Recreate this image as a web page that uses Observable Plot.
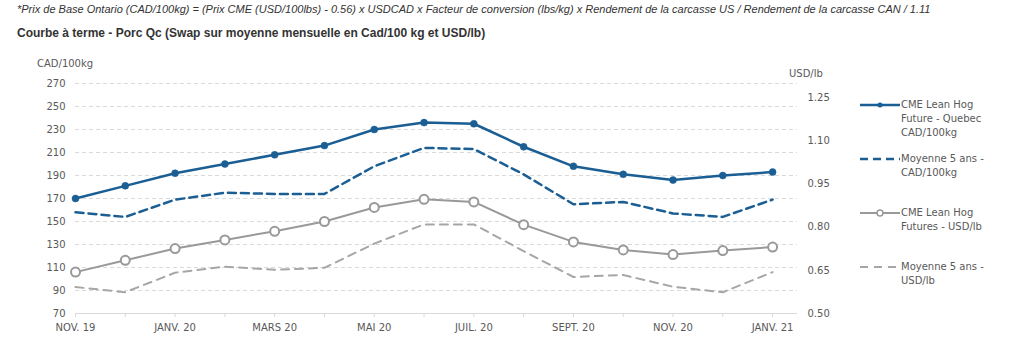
<!DOCTYPE html>
<html><head><meta charset="utf-8">
<script src="https://cdn.jsdelivr.net/npm/d3@7"></script>
<script src="https://cdn.jsdelivr.net/npm/@observablehq/plot@0.6"></script>
<style>
body{margin:0;background:#fff;}
#wrap{position:relative;width:1024px;height:344px;overflow:hidden;font-family:"DejaVu Sans",sans-serif;}
#wrap svg.plot{position:absolute;left:0;top:0;}
.t1{position:absolute;left:17px;top:3px;font:italic 11px "Liberation Sans",Arial,sans-serif;color:#333;white-space:nowrap}
.t2{position:absolute;left:17px;top:26px;font:bold 12px "Liberation Sans",Arial,sans-serif;color:#333;white-space:nowrap}
.axt{position:absolute;font:10px "DejaVu Sans",sans-serif;color:#595959;white-space:nowrap}
.leg{position:absolute;left:860px;font:10px "DejaVu Sans",sans-serif;color:#595959;line-height:14px}
.leg svg{position:absolute;left:0;top:0}
.leg div{position:absolute;left:41px;top:0;white-space:nowrap}
</style></head>
<body>
<div id="wrap">
  <div class="t1">*Prix de Base Ontario (CAD/100kg) = (Prix CME (USD/100lbs) - 0.56) x USDCAD x Facteur de conversion (lbs/kg) x Rendement de la carcasse US / Rendement de la carcasse CAN / 1.11</div>
  <div class="t2">Courbe à terme - Porc Qc (Swap sur moyenne mensuelle en Cad/100 kg et USD/lb)</div>
</div>
<script>
// ---- data ----
const months = ["NOV. 19","DÉC. 19","JANV. 20","FÉVR. 20","MARS 20","AVR. 20","MAI 20","JUIN 20","JUIL. 20","AOÛT 20","SEPT. 20","OCT. 20","NOV. 20","DÉC. 20","JANV. 21"];
const cadFuture = [170,181,192,200,208,216,230,236,235,215,198,191,186,190,193];
const cadAvg    = [158,154,169,175,174,174,198,214,213,191,165,167,157,154,169];
const usdFuture = [0.644,0.685,0.726,0.756,0.786,0.820,0.869,0.897,0.888,0.809,0.749,0.721,0.705,0.719,0.731];
const usdAvg    = [0.592,0.574,0.642,0.663,0.652,0.659,0.743,0.810,0.810,0.717,0.627,0.634,0.593,0.574,0.644];
const leftTicks  = [70,90,110,130,150,170,190,210,230,250,270];
const rightTicks = [0.50,0.65,0.80,0.95,1.10,1.25];
const leftDomain = [70,270];
const rightDomain = [0.50,1.30];
const seriesNames = ["CME Lean Hog Future - Quebec CAD/100kg","Moyenne 5 ans - CAD/100kg","CME Lean Hog Futures - USD/lb","Moyenne 5 ans - USD/lb"];

// map right-axis values onto the left scale
const k = (leftDomain[1]-leftDomain[0])/(rightDomain[1]-rightDomain[0]);
const toLeft = v => leftDomain[0] + (v - rightDomain[0]) * k;
const fromLeft = v => rightDomain[0] + (v - leftDomain[0]) / k;

const BLUE = "#1b5e94", GRAY = "#999999", GRAY2 = "#a6a6a6";
const rows = months.map((m,i)=>({i, m, cf:cadFuture[i], ca:cadAvg[i], uf:toLeft(usdFuture[i]), ua:toLeft(usdAvg[i])}));

const chart = Plot.plot({
  width:1024, height:344,
  marginTop:83, marginBottom:31, marginLeft:75, marginRight:227,
  style:{fontFamily:"DejaVu Sans", fontSize:"10px", color:"#595959", background:"transparent"},
  x:{type:"linear", domain:[0, months.length - 0.5], axis:null},
  y:{domain:leftDomain, axis:null},
  marks:[
    Plot.ruleY(leftTicks.slice(1), {stroke:"#d9d9d9", strokeDasharray:"4,3"}),
    Plot.ruleY([leftDomain[0]], {stroke:"#d9d9d9"}),
    Plot.axisY(leftTicks, {anchor:"left", tickSize:0, tickPadding:10, fill:"#595959", label:null}),
    Plot.axisY(rightTicks.map(toLeft), {anchor:"right", tickSize:0, tickPadding:10, fill:"#595959", label:null,
      tickFormat: d => d3.format(".2f")(fromLeft(d))}),
    Plot.axisX(d3.range(months.length), {anchor:"bottom", tickSize:4, tickPadding:6, stroke:"#d9d9d9", fill:"#595959", label:null,
      tickFormat: i => i % 2 === 0 ? months[i] : ""}),
    Plot.line(rows, {x:"i", y:"ua", stroke:GRAY2, strokeWidth:2, strokeDasharray:"8,6"}),
    Plot.line(rows, {x:"i", y:"ca", stroke:BLUE, strokeWidth:2.5, strokeDasharray:"8,5"}),
    Plot.line(rows, {x:"i", y:"uf", stroke:GRAY, strokeWidth:2}),
    Plot.dot(rows, {x:"i", y:"uf", r:4.5, fill:"white", stroke:GRAY, strokeWidth:2}),
    Plot.line(rows, {x:"i", y:"cf", stroke:BLUE, strokeWidth:2.5}),
    Plot.dot(rows, {x:"i", y:"cf", r:3.5, fill:BLUE, stroke:BLUE, strokeWidth:0.5})
  ]
});
chart.classList.add("plot");
const wrap = document.getElementById("wrap");
wrap.insertBefore(chart, wrap.firstChild);

function addText(cls, txt, left, top){
  const d = document.createElement("div"); d.className = cls; d.textContent = txt;
  d.style.left = left+"px"; d.style.top = top+"px"; wrap.appendChild(d);
}
addText("axt", "CAD/100kg", 37, 58);
addText("axt", "USD/lb", 789, 68);

// legend
const legItems = [
  {lines:["CME Lean Hog","Future - Quebec","CAD/100kg"], top:98, stroke:BLUE, w:2.5, dash:null, marker:"fill"},
  {lines:["Moyenne 5 ans -","CAD/100kg"], top:152, stroke:BLUE, w:2.5, dash:"8,5", marker:null},
  {lines:["CME Lean Hog","Futures - USD/lb"], top:206, stroke:GRAY, w:2, dash:null, marker:"hollow"},
  {lines:["Moyenne 5 ans -","USD/lb"], top:260, stroke:GRAY2, w:2, dash:"8,6", marker:null}
];
legItems.forEach(it=>{
  const g = document.createElement("div"); g.className = "leg"; g.style.top = it.top+"px";
  let svg = `<svg width="40" height="14"><line x1="0" x2="40" y1="7" y2="7" stroke="${it.stroke}" stroke-width="${it.w}" ${it.dash?`stroke-dasharray="${it.dash}"`:""}/>`;
  if (it.marker==="fill") svg += `<circle cx="20" cy="7" r="2.5" fill="${it.stroke}"/>`;
  if (it.marker==="hollow") svg += `<circle cx="20" cy="7" r="3" fill="white" stroke="${it.stroke}" stroke-width="1.5"/>`;
  svg += `</svg>`;
  g.innerHTML = svg + `<div>${it.lines.join("<br>")}</div>`;
  wrap.appendChild(g);
});
</script>
</body></html>
